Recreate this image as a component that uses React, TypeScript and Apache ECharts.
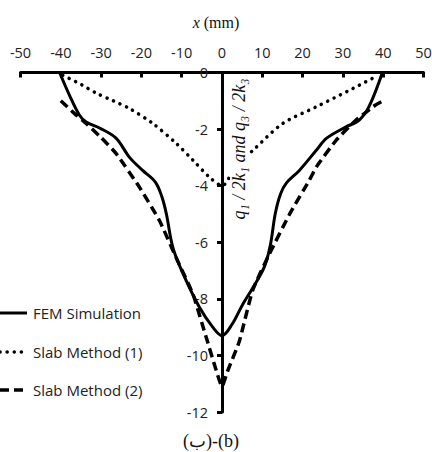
import React, { useEffect, useRef } from "react";
import * as echarts from "echarts";

const xTicks = [-50, 50, 10];
const yTicks = [-12, 0, 2];

const femSimulation: [number, number][] = [
  [-40.3, 0], [-37.7, -0.85], [-35.4, -1.5], [-33.7, -1.75], [-30.4, -1.96], [-26.3, -2.32],
  [-23, -2.99], [-19.7, -3.46], [-16.5, -3.88], [-14.9, -4.4], [-13.8, -5.0], [-12.2, -6.18],
  [-9.7, -7.1], [-5.6, -8.3], [-2.3, -9.0], [0, -9.3], [2.5, -8.9], [5.2, -8.18], [7.7, -7.6],
  [10.5, -6.87], [12, -6.1], [13.2, -5.0], [14.5, -4.3], [16, -3.9], [19.2, -3.46],
  [23.4, -2.75], [25.9, -2.33], [30.8, -1.92], [34, -1.69], [36.5, -1.2], [39.8, 0],
];

const slabMethod1: [number, number][] = [
  [-39.5, -0.1], [-35, -0.42], [-31.2, -0.73], [-27, -1.0], [-23, -1.27], [-17.2, -1.8],
  [-11.4, -2.5], [-7.2, -3.1], [-3.1, -3.7], [0, -4.0], [3.5, -3.3], [7.6, -2.76],
  [15, -1.81], [23.3, -1.22], [31.6, -0.63], [38.1, -0.15],
];

const slabMethod2: [number, number][] = [
  [-40, -1.0], [-37, -1.4], [-33.7, -1.8], [-30, -2.3], [-26.3, -2.86], [-20.5, -4.05],
  [-15.5, -5.24], [-11.4, -6.54], [-7.2, -7.84], [-3.9, -9.37], [-1.4, -10.55], [0, -11.1],
  [1.4, -10.55], [4.3, -9.5], [7.6, -7.7], [11.8, -6.4], [16.8, -5.0], [21.7, -3.8],
  [23.4, -3.34], [28.3, -2.4], [33.2, -1.69], [38.1, -1.15], [40, -1.0],
];

const seriesNames = ["FEM Simulation", "Slab Method (1)", "Slab Method (2)"];

export default function App() {
  const ref = useRef<HTMLDivElement>(null);
  useEffect(() => {
    if (!ref.current) return;
    const chart = echarts.init(ref.current, undefined, { renderer: "svg" });
    const labelFont = { fontFamily: "Open Sans", fontSize: 14.5, color: "#222" };
    const gridLeft = 20.5;
    const gridRight = 8.5;
    const plotW = 432 - gridLeft - gridRight;
    const zeroX = gridLeft + (plotW * (0 - xTicks[0])) / (xTicks[1] - xTicks[0]);
    const lineStyles = [
      { lineWidth: 3 },
      { lineWidth: 3.5, lineDash: [0.1, 7], lineCap: "round" },
      { lineWidth: 3.5, lineDash: [9, 5] },
    ];
    const legendY = [313, 352, 390];
    const legendGraphics: any[] = [];
    seriesNames.forEach((name, i) => {
      legendGraphics.push({
        type: "line",
        shape: { x1: 0, y1: legendY[i], x2: 27, y2: legendY[i] },
        style: { stroke: "#000", ...lineStyles[i] },
      });
      legendGraphics.push({
        type: "text",
        x: 33,
        y: legendY[i],
        style: {
          text: name,
          align: "left",
          verticalAlign: "middle",
          fontFamily: "Open Sans",
          fontSize: 15,
          fill: "#222",
        },
      });
    });
    chart.setOption({
      animation: false,
      backgroundColor: "#fff",
      grid: {
        left: gridLeft,
        right: gridRight,
        top: 72.5,
        bottom: 40,
        containLabel: false,
        outerBoundsMode: "none",
      },
      xAxis: {
        type: "value",
        min: xTicks[0],
        max: xTicks[1],
        interval: xTicks[2],
        position: "top",
        splitLine: { show: false },
        axisLine: { onZero: false, lineStyle: { color: "#000", width: 3 } },
        axisTick: { show: true, inside: true, length: 5, lineStyle: { color: "#000", width: 3 } },
        axisLabel: { ...labelFont, margin: 13 },
      },
      yAxis: {
        type: "value",
        min: yTicks[0],
        max: yTicks[1],
        interval: yTicks[2],
        position: "left",
        offset: -(zeroX - gridLeft),
        splitLine: { show: false },
        axisLine: { onZero: false, lineStyle: { color: "#000", width: 3 } },
        axisTick: { show: true, inside: false, length: 5, lineStyle: { color: "#000", width: 3 } },
        axisLabel: { ...labelFont, margin: 14 },
      },
      graphic: [
        ...legendGraphics,
        {
          type: "text",
          x: 216,
          y: 22,
          style: {
            text: "{i|x} (mm)",
            align: "center",
            verticalAlign: "middle",
            fontFamily: "Liberation Serif",
            fontSize: 16,
            fill: "#111",
            rich: { i: { fontStyle: "italic", fontFamily: "Liberation Serif", fontSize: 16 } },
          },
        },
        {
          type: "text",
          x: 239,
          y: 149,
          rotation: Math.PI / 2,
          z: 100,
          style: {
            text: "q\u2081 / 2k\u2081 and q\u2083 / 2k\u2083",
            align: "center",
            verticalAlign: "middle",
            fontFamily: "Liberation Serif",
            fontStyle: "italic",
            fontSize: 18,
            fill: "#111",
            backgroundColor: "#fff",
          },
        },
        {
          type: "text",
          x: 211,
          y: 441,
          style: {
            text: "(\u0628)-(b)",
            align: "center",
            verticalAlign: "middle",
            fontFamily: "Liberation Serif, DejaVu Serif",
            fontSize: 18,
            fill: "#111",
          },
        },
      ],
      series: [
        {
          name: seriesNames[0],
          type: "line",
          data: femSimulation,
          smooth: 0.35,
          symbol: "none",
          lineStyle: { color: "#000", width: 3 },
        },
        {
          name: seriesNames[1],
          type: "line",
          data: slabMethod1,
          smooth: 0.3,
          symbol: "none",
          lineStyle: { color: "#000", width: 3.5, type: [0.1, 7], cap: "round" },
        },
        {
          name: seriesNames[2],
          type: "line",
          data: slabMethod2,
          smooth: 0.15,
          symbol: "none",
          lineStyle: { color: "#000", width: 3.5, type: [9, 5] },
        },
      ],
    });
    return () => chart.dispose();
  }, []);
  return (
    <div
      ref={ref}
      style={{ position: "fixed", left: 0, top: 0, width: 432, height: 452, background: "#fff" }}
    />
  );
}
